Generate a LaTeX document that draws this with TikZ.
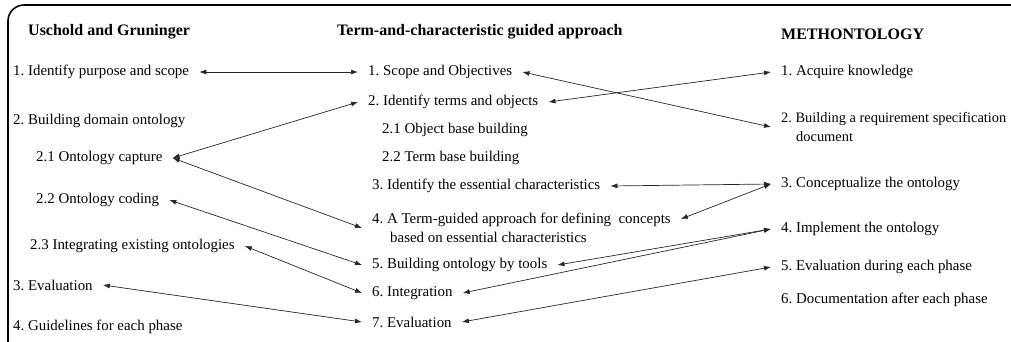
\documentclass[tikz,border=0pt]{standalone}
\usepackage{fontspec}
\setmainfont{Liberation Serif}
\usetikzlibrary{arrows.meta}
\frenchspacing

\begin{document}
\begin{tikzpicture}[
  x=1pt, y=-1pt,
  font=\rmfamily\fontsize{14.9}{18.5}\selectfont,
  head/.style={anchor=west, inner sep=0pt, font=\rmfamily\fontsize{16}{18}\selectfont\bfseries},
  item/.style={anchor=west, inner xsep=10pt, inner ysep=1pt, align=left},
  link/.style={{Latex[length=7pt,width=5pt]}-{Latex[length=7pt,width=5pt]}, line width=0.7pt, draw=black!85}
]
\clip (0,0) rectangle (1011,341);
\useasboundingbox (0,0) rectangle (1011,341);

% frame
\draw[line width=1.6pt, rounded corners=16pt] (8,5) rectangle (1040,370);

% column titles
\node[head] (hl) at (28,32) {Uschold and Gruninger};
\node[head] (hm) at (337,32) {Term-and-characteristic guided approach};
\node[head] (hr) at (781,34) {METHONTOLOGY};

% Uschold and Gruninger
\node[item] (lf1) at (3,72) {1. Identify purpose and scope};
\node[item] (lf2) at (3,121) {2. Building domain ontology};
\node[item] (lf21) at (26,158) {2.1 Ontology capture};
\node[item] (lf22) at (26,200) {2.2 Ontology coding};
\node[item] (lf23) at (20,246) {2.3 Integrating existing ontologies};
\node[item] (lf3) at (3,285) {3. Evaluation};
\node[item] (lf4) at (3,327) {4. Guidelines for each phase};

% term-and-characteristic guided approach
\node[item] (md1) at (358,72) {1. Scope and Objectives};
\node[item] (md2) at (358,102) {2. Identify terms and objects};
\node[item] (md21) at (372,130) {2.1 Object base building};
\node[item] (md22) at (372,158) {2.2 Term base building};
\node[item] (md3) at (362,186) {3. Identify the essential characteristics};
\node[item] (md4) at (362,228) {4. A Term-guided approach for defining~ concepts\\\hspace*{18pt}based on essential characteristics};
\node[item] (md5) at (362,265) {5. Building ontology by tools};
\node[item] (md6) at (362,293) {6. Integration};
\node[item] (md7) at (362,322) {7. Evaluation};

% METHONTOLOGY
\node[item] (rt1) at (771,72) {1. Acquire knowledge};
\node[item, font=\rmfamily\fontsize{14.4}{18.5}\selectfont] (rt2) at (771,127) {2. Building a requirement specification\\\hspace*{15pt}document};
\node[item] (rt3) at (771,184) {3. Conceptualize the ontology};
\node[item] (rt4) at (771,229) {4. Implement the ontology};
\node[item] (rt5) at (771,267) {5. Evaluation during each phase};
\node[item] (rt6) at (771,300) {6. Documentation after each phase};

% left <-> middle
\draw[link] (lf1.east) -- (md1.west);
\draw[link] (lf21.east) -- (md2.west);
\draw[link] (lf21.east) -- (md4.west);
\draw[link] (lf22.east) -- (md5.west);
\draw[link] (lf23.east) -- (md6.west);
\draw[link] (lf3.east) -- (md7.west);

% middle <-> right
\draw[link] (md1.east) -- (rt2.west);
\draw[link] (md2.east) -- (rt1.west);
\draw[link] (md3.east) -- (rt3.west);
\draw[link] ([yshift=9pt]md4.east) -- (rt3.west);
\draw[link] (md5.east) -- (rt4.west);
\draw[link] (md6.east) -- (rt4.west);
\draw[link] (md7.east) -- (rt5.west);
\end{tikzpicture}
\end{document}
